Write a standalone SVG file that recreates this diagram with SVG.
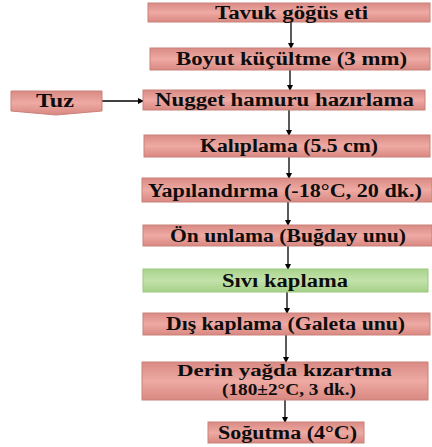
<svg xmlns="http://www.w3.org/2000/svg" width="432" height="447" viewBox="0 0 432 447">
<defs>
<linearGradient id="pink" x1="0" y1="0" x2="0" y2="1">
<stop offset="0" stop-color="#d98a84"/>
<stop offset="0.5" stop-color="#eeaaa3"/>
<stop offset="1" stop-color="#d88881"/>
</linearGradient>
<linearGradient id="green" x1="0" y1="0" x2="0" y2="1">
<stop offset="0" stop-color="#a9d38c"/>
<stop offset="0.5" stop-color="#c2e2aa"/>
<stop offset="1" stop-color="#a6d088"/>
</linearGradient>
<marker id="ah" markerWidth="6" markerHeight="6" refX="5" refY="3" orient="auto" markerUnits="userSpaceOnUse">
<path d="M0,0 L6,3 L0,6 Z" fill="#000"/>
</marker>
</defs>
<style>
.p{fill:url(#pink);stroke:#c9817b;stroke-width:1}
.g{fill:url(#green);stroke:#9cc880;stroke-width:1}
text{font-family:"Liberation Serif","Times New Roman",serif;font-weight:bold;font-size:18px;fill:#0d0d0d;text-anchor:middle}
.s{font-size:16px}
.c{stroke:#000;stroke-width:1.3;fill:none;marker-end:url(#ah)}
</style>
<rect width="432" height="447" fill="#fff"/>
<g id="connectors">
<line class="c" x1="291" y1="22" x2="291" y2="48"/>
<line class="c" x1="290" y1="70" x2="290" y2="90"/>
<line class="c" x1="102" y1="101" x2="143" y2="101"/>
<line class="c" x1="289" y1="110" x2="289" y2="135"/>
<line class="c" x1="289" y1="157" x2="289" y2="178"/>
<line class="c" x1="288" y1="202" x2="288" y2="225"/>
<line class="c" x1="288" y1="246" x2="288" y2="269"/>
<line class="c" x1="287" y1="292" x2="287" y2="313"/>
<line class="c" x1="286" y1="335" x2="286" y2="362"/>
<line class="c" x1="285" y1="400" x2="285" y2="422"/>
</g>
<g id="n1"><rect class="p" x="148" y="3" width="282" height="19"/><text x="291.5" y="18.5" textLength="153" lengthAdjust="spacingAndGlyphs">Tavuk göğüs eti</text></g>
<g id="n2"><rect class="p" x="150" y="48" width="280" height="22"/><text x="291.5" y="65" textLength="231" lengthAdjust="spacingAndGlyphs">Boyut küçültme (3 mm)</text></g>
<g id="tuz"><polygon class="p" points="11,91 102,91 102,111 56,115 11,111"/><text x="55" y="106.5" textLength="38" lengthAdjust="spacingAndGlyphs">Tuz</text></g>
<g id="n3"><rect class="p" x="143" y="90" width="282" height="20"/><text x="284.5" y="106" textLength="259" lengthAdjust="spacingAndGlyphs">Nugget hamuru hazırlama</text></g>
<g id="n4"><rect class="p" x="144" y="135" width="286" height="22"/><text x="289" y="152" textLength="178" lengthAdjust="spacingAndGlyphs">Kalıplama (5.5 cm)</text></g>
<g id="n5"><rect class="p" x="142" y="178" width="290" height="24"/><text x="285" y="196.5" textLength="274" lengthAdjust="spacingAndGlyphs">Yapılandırma (-18°C, 20 dk.)</text></g>
<g id="n6"><rect class="p" x="143" y="225" width="289" height="21"/><text x="288" y="241.5" textLength="236" lengthAdjust="spacingAndGlyphs">Ön unlama (Buğday unu)</text></g>
<g id="n7"><rect class="g" x="143" y="269" width="285" height="23"/><text x="285" y="286.5" textLength="126" lengthAdjust="spacingAndGlyphs">Sıvı kaplama</text></g>
<g id="n8"><rect class="p" x="143" y="313" width="287" height="22"/><text x="285.5" y="330" textLength="239" lengthAdjust="spacingAndGlyphs">Dış kaplama (Galeta unu)</text></g>
<g id="n9"><rect class="p" x="142" y="362" width="286" height="38"/><text class="s" x="284.5" y="376" textLength="215" lengthAdjust="spacingAndGlyphs">Derin yağda kızartma</text><text class="s" x="289" y="395" textLength="134" lengthAdjust="spacingAndGlyphs">(180±2°C, 3 dk.)</text></g>
<g id="n10"><rect class="p" x="208" y="422" width="156" height="21"/><text x="287.5" y="438.5" textLength="139" lengthAdjust="spacingAndGlyphs">Soğutma (4°C)</text></g>
</svg>
